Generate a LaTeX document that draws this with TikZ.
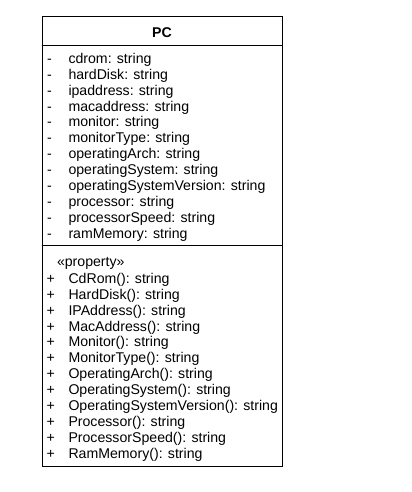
\documentclass[tikz,border=0pt]{standalone}
\usepackage{fontspec}
\setmainfont{Liberation Sans}
\begin{document}
\begin{tikzpicture}[x=0.75pt,y=-0.75pt,
  txt/.style={anchor=base west,inner sep=0pt,font=\fontsize{10.6pt}{12pt}\selectfont},
  vis/.style={anchor=base west,inner sep=0pt,font=\fontsize{10.6pt}{12pt}\selectfont},
  line width=0.75pt]
\useasboundingbox (0,0) rectangle (411,492);
\node[draw=black,line width=0.75pt,minimum width=240.6pt*0.75,minimum height=449.4pt*0.75,inner sep=0pt,anchor=north west] (box) at (41.7,16.3) {};
\node[font=\fontsize{10.6pt}{12pt}\selectfont\bfseries,inner sep=0pt,anchor=base] (title) at (162,37.3) {PC};
\coordinate (d1l) at (41.7,45.7);
\coordinate (d1r) at (282.3,45.7);
\coordinate (d2l) at (41.7,245.7);
\coordinate (d2r) at (282.3,245.7);
\draw (d1l) -- (d1r);
\draw (d2l) -- (d2r);
\foreach \t [count=\i from 0] in {cdrom: string,hardDisk: string,ipaddress: string,macaddress: string,monitor: string,monitorType: string,operatingArch: string,operatingSystem: string,operatingSystemVersion: string,processor: string,processorSpeed: string,ramMemory: string}{
  \node[vis] (av\i) at (46.5,63.3+15.92*\i) {-};
  \node[txt] (a\i) at (68,63.3+15.92*\i) {\t};
}
\node[txt] (stereo) at (56.5,266.5) {«property»};
\foreach \t [count=\i from 0] in {CdRom(): string,HardDisk(): string,IPAddress(): string,MacAddress(): string,Monitor(): string,MonitorType(): string,OperatingArch(): string,OperatingSystem(): string,OperatingSystemVersion(): string,Processor(): string,ProcessorSpeed(): string,RamMemory(): string}{
  \node[vis] (mv\i) at (46,283.3+15.92*\i) {+};
  \node[txt] (m\i) at (68,283.3+15.92*\i) {\t};
}
\end{tikzpicture}
\end{document}
